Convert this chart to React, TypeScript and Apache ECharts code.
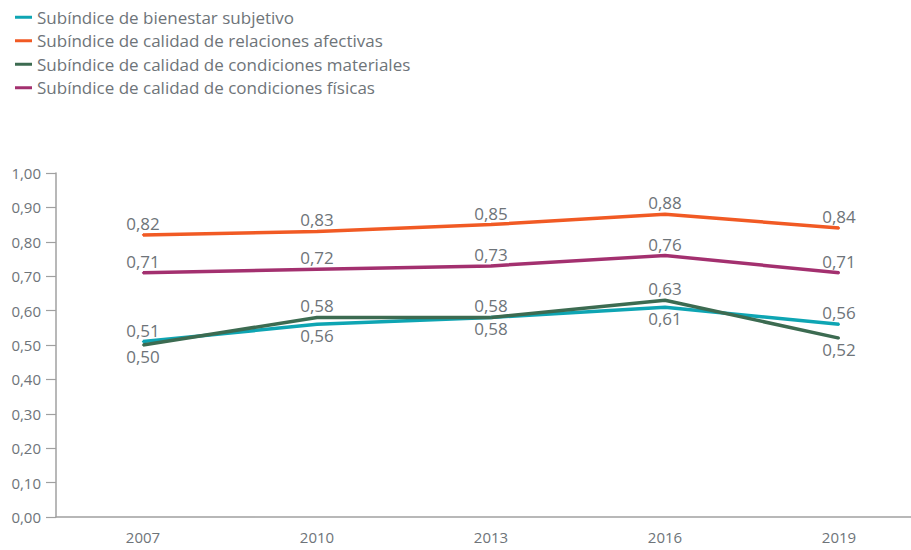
import React, { useEffect, useRef } from "react";
import * as echarts from "echarts";

const years = ["2007", "2010", "2013", "2016", "2019"];
const seriesNames = [
  "Subíndice de bienestar subjetivo",
  "Subíndice de calidad de relaciones afectivas",
  "Subíndice de calidad de condiciones materiales",
  "Subíndice de calidad de condiciones físicas",
];
const bienestar = [0.51, 0.56, 0.58, 0.61, 0.56];
const afectivas = [0.82, 0.83, 0.85, 0.88, 0.84];
const materiales = [0.5, 0.58, 0.58, 0.63, 0.52];
const fisicas = [0.71, 0.72, 0.73, 0.76, 0.71];
const bienestarLabelPos = ["top", "bottom", "bottom", "bottom", "top"];
const materialesLabelPos = ["bottom", "top", "top", "top", "bottom"];
const colors = ["#0ea5b3", "#f15a24", "#3c6b51", "#a3306f"];

const TEXT = "#6e7479";
const FONT = "'Open Sans', sans-serif";
const fmt = (v: number) => v.toFixed(2).replace(".", ",");

export default function App() {
  const ref = useRef<HTMLDivElement>(null);
  useEffect(() => {
    if (!ref.current) return;
    document.body.style.margin = "0";
    document.body.style.overflow = "hidden";
    const chart = echarts.init(ref.current, undefined, { renderer: "svg" });
    const mkData = (vals: number[], pos?: string[]) =>
      vals.map((v, i) => ({
        value: v,
        label: { position: pos ? pos[i] : "top" },
      }));
    const all = [
      mkData(bienestar, bienestarLabelPos),
      mkData(afectivas),
      mkData(materiales, materialesLabelPos),
      mkData(fisicas),
    ];
    chart.setOption({
      animation: false,
      textStyle: { fontFamily: FONT },
      legend: {
        orient: "vertical",
        left: 15,
        top: 8,
        padding: 0,
        icon: "rect",
        itemWidth: 17,
        itemHeight: 3,
        itemGap: 5,
        textStyle: { color: TEXT, fontSize: 17, fontFamily: FONT, lineHeight: 18.5 },
        data: seriesNames,
      },
      grid: { left: 56, top: 173, width: 870, height: 344, containLabel: false },
      xAxis: {
        type: "category",
        data: years,
        boundaryGap: true,
        axisLine: { lineStyle: { color: "#a0a0a0", width: 1.5 } },
        axisTick: { length: 15, lineStyle: { color: "#a0a0a0", width: 1.5 } },
        axisLabel: { color: TEXT, fontSize: 15, margin: 12, fontFamily: FONT },
      },
      yAxis: {
        type: "value",
        min: 0,
        max: 1,
        interval: 0.1,
        splitLine: { show: false },
        axisLine: { show: true, lineStyle: { color: "#a0a0a0", width: 1.5 } },
        axisTick: { show: true, length: 10, lineStyle: { color: "#a0a0a0", width: 1.2 } },
        axisLabel: { color: TEXT, fontSize: 15, margin: 15, formatter: fmt, fontFamily: FONT },
      },
      series: seriesNames.map((name, i) => ({
        name,
        type: "line",
        data: all[i],
        symbol: "circle",
        symbolSize: 2,
        showSymbol: true,
        itemStyle: { color: colors[i] },
        color: colors[i],
        lineStyle: { width: 3.5, color: colors[i] },
        label: {
          show: true,
          color: TEXT,
          fontSize: 17,
          fontFamily: FONT,
          distance: 2,
          formatter: (p: any) => fmt(p.value),
        },
        labelLayout: { hideOverlap: false },
      })),
    });
    return () => chart.dispose();
  }, []);
  return (
    <div style={{ width: 911, height: 550, overflow: "hidden" }}>
      <div ref={ref} style={{ width: 940, height: 550 }} />
    </div>
  );
}
